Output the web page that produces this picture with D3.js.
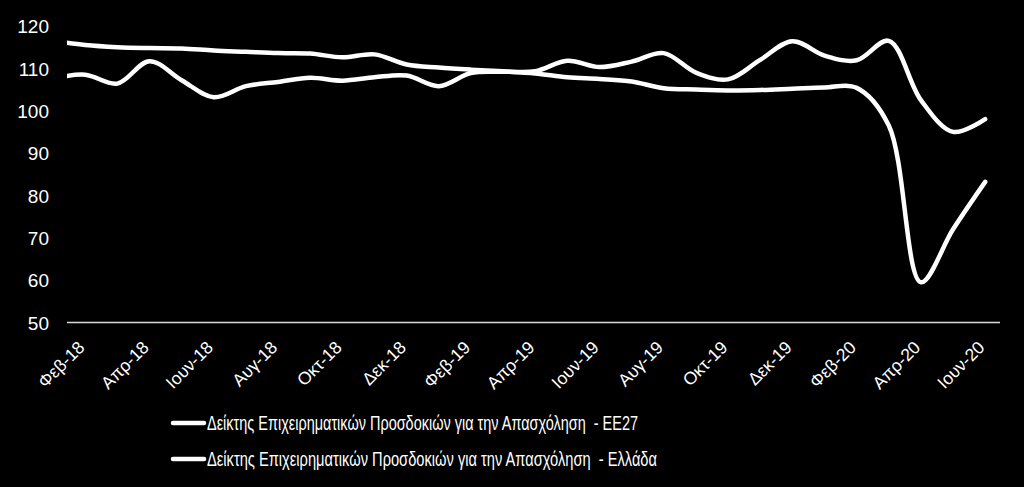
<!DOCTYPE html>
<html>
<head>
<meta charset="utf-8">
<script src="https://cdn.jsdelivr.net/npm/d3@7"></script>
<style>
  html, body { margin: 0; padding: 0; background: #000; }
  svg { display: block; }
</style>
</head>
<body>
<svg id="chart" width="1024" height="487"></svg>
<script>
// ---- Data ----
const months = ["Ιαν-18","Φεβ-18","Μαρ-18","Απρ-18","Μαϊ-18","Ιουν-18","Ιουλ-18","Αυγ-18","Σεπ-18","Οκτ-18","Νοε-18","Δεκ-18",
  "Ιαν-19","Φεβ-19","Μαρ-19","Απρ-19","Μαϊ-19","Ιουν-19","Ιουλ-19","Αυγ-19","Σεπ-19","Οκτ-19","Νοε-19","Δεκ-19",
  "Ιαν-20","Φεβ-20","Μαρ-20","Απρ-20","Μαϊ-20","Ιουν-20"];
const tickLabels = ["Φεβ-18","Απρ-18","Ιουν-18","Αυγ-18","Οκτ-18","Δεκ-18","Φεβ-19","Απρ-19","Ιουν-19","Αυγ-19","Οκτ-19","Δεκ-19","Φεβ-20","Απρ-20","Ιουν-20"];
const yTicks = [50, 60, 70, 80, 90, 100, 110, 120];
const seriesEE27 = [116.5,115.5,115.0,114.8,114.7,114.2,113.9,113.6,113.5,112.6,113.3,110.9,
  110.2,109.7,109.3,108.8,107.9,107.5,106.9,105.3,105.0,104.8,104.9,105.2,
  105.5,105.4,96.5,59.5,72.0,83.2];
const seriesGreece = [107.6,108.5,106.4,111.7,107.2,103.2,105.8,106.8,107.8,107.1,107.9,108.3,
  105.8,108.9,109.2,109.3,111.8,110.3,111.6,113.6,109.0,107.4,112.0,116.4,
  113.0,111.9,116.5,102.5,95.0,98.0];
const legendLabels = [
  "Δείκτης Επιχειρηματικών Προσδοκιών για την Απασχόληση  - ΕΕ27",
  "Δείκτης Επιχειρηματικών Προσδοκιών για την Απασχόληση  - Ελλάδα"
];

// ---- Layout ----
const svg = d3.select("#chart");
const W = 1024, H = 487;
const plot = { left: 67, right: 1000, top: 26, bottom: 322.5 };

svg.append("rect").attr("width", W).attr("height", H).attr("fill", "#000");

const x = d3.scalePoint().domain(months).range([53, 985.2]);
const y = d3.scaleLinear().domain([50, 120]).range([plot.bottom, plot.top]);

// clip to plot area
svg.append("defs").append("clipPath").attr("id", "plotClip")
  .append("rect").attr("x", plot.left).attr("y", 0)
  .attr("width", plot.right - plot.left).attr("height", H);

// Y axis labels
const yAxis = d3.axisLeft(y).tickValues(yTicks).tickSize(0).tickPadding(0);
const gy = svg.append("g").attr("transform", "translate(49,0)").call(yAxis);
gy.select(".domain").remove();
gy.selectAll("text")
  .attr("fill", "#fff")
  .attr("font-family", "'Liberation Sans', Arial, sans-serif")
  .attr("font-size", "19px")
  .attr("dy", "0.36em");

// X axis line
svg.append("line")
  .attr("x1", plot.left).attr("x2", plot.right)
  .attr("y1", y(50)).attr("y2", y(50))
  .attr("stroke", "#d9d9d9").attr("stroke-width", 1.5);

// X axis labels
const xAxis = d3.axisBottom(x).tickValues(tickLabels).tickSize(0).tickPadding(0);
const gx = svg.append("g").attr("transform", `translate(0,${y(50)})`).call(xAxis);
gx.select(".domain").remove();
gx.selectAll("text")
  .attr("fill", "#fff")
  .attr("font-family", "'Liberation Sans', Arial, sans-serif")
  .attr("font-size", "17.5px")
  .attr("text-anchor", "end")
  .attr("dy", null)
  .attr("y", 0)
  .attr("transform", "translate(0,26) rotate(-45)");

// Lines
const line = d3.line()
  .x((d, i) => x(months[i]))
  .y(d => y(d))
  .curve(d3.curveCatmullRom.alpha(0.5));

const gLines = svg.append("g").attr("clip-path", "url(#plotClip)");
[seriesEE27, seriesGreece].forEach(s => {
  gLines.append("path")
    .datum(s)
    .attr("d", line)
    .attr("fill", "none")
    .attr("stroke", "#fff")
    .attr("stroke-width", 4.5)
    .attr("stroke-linecap", "round")
    .attr("stroke-linejoin", "round");
});

// Legend
const legend = svg.append("g");
const legendY = [423, 459];
const legendLens = [431, 450];
legendLabels.forEach((lbl, i) => {
  legend.append("line")
    .attr("x1", 173).attr("x2", 204)
    .attr("y1", legendY[i]).attr("y2", legendY[i])
    .attr("stroke", "#fff").attr("stroke-width", 4.5)
    .attr("stroke-linecap", "round");
  legend.append("text")
    .attr("x", 207).attr("y", legendY[i] + 6.5)
    .attr("fill", "#fff")
    .attr("font-family", "'Liberation Sans Narrow', 'Liberation Sans', Arial, sans-serif")
    .attr("font-size", "19.5px")
    .attr("textLength", legendLens[i])
    .attr("lengthAdjust", "spacingAndGlyphs")
    .attr("xml:space", "preserve")
    .style("white-space", "pre")
    .text(lbl);
});
</script>
</body>
</html>
